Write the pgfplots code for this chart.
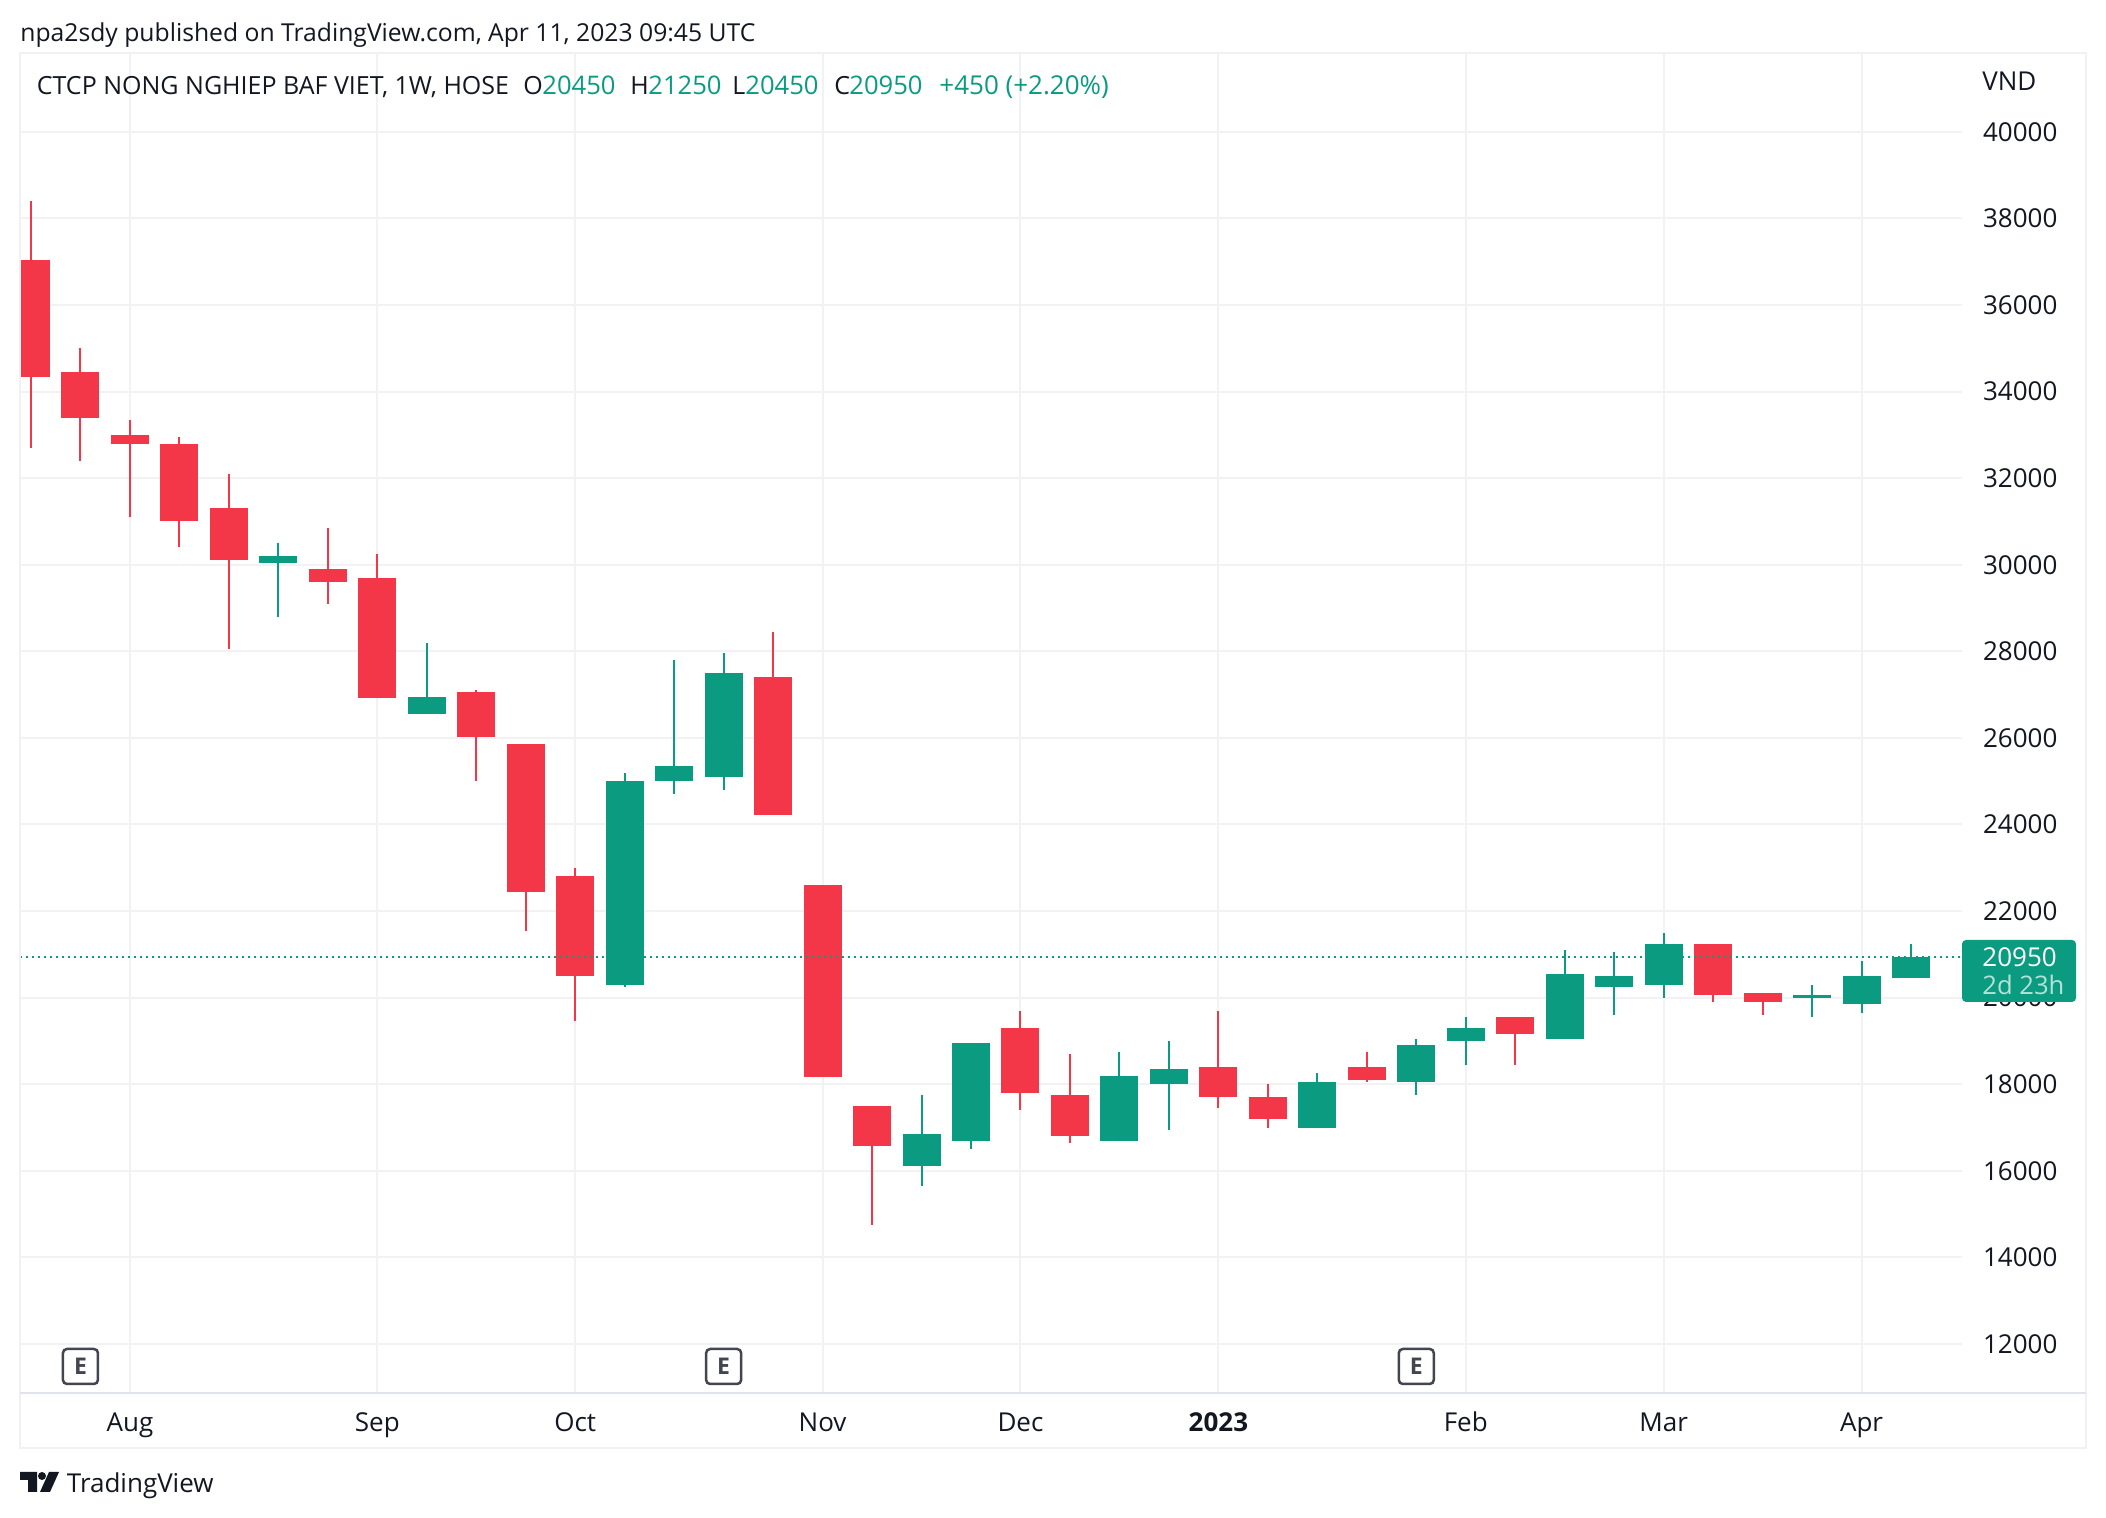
\documentclass[border=0pt]{standalone}
\usepackage{pgfplots}
\pgfplotsset{compat=1.18}
\usepackage{pgfplotstable}
\usepackage{fontspec}
\setmainfont{Open Sans}
\definecolor{tvred}{HTML}{F43748}
\definecolor{tvgreen}{HTML}{0A9B81}
\definecolor{tvtext}{HTML}{131722}
\definecolor{tvgrid}{HTML}{F2F2F4}
\definecolor{tvframe}{HTML}{F0F1F5}
\definecolor{tvaxis}{HTML}{E0E3EB}
\definecolor{tvmark}{HTML}{434651}
\pgfplotstableread{
i h bh bl l
0 38400 37030 34330 32700
1 35000 34450 33400 32400
2 33350 33000 32800 31100
3 32950 32800 31000 30400
4 32100 31300 30100 28050
6 30850 29900 29600 29100
7 30250 29700 26930 26930
9 27100 27050 26020 25000
10 25850 25850 22430 21550
11 23000 22800 20500 19450
15 28450 27400 24220 24220
16 22600 22600 18170 18170
17 17500 17500 16570 14750
20 19700 19300 17800 17400
21 18700 17750 16800 16650
24 19700 18400 17700 17450
25 18000 17700 17200 17000
27 18750 18400 18100 18050
30 19550 19550 19150 18450
34 21250 21250 20050 19900
35 20100 20100 19900 19600
}\redcandles
\pgfplotstableread{
i h bh bl l
5 30500 30200 30050 28800
8 28200 26950 26550 26550
12 25200 25000 20300 20250
13 27800 25350 25000 24700
14 27950 27500 25100 24800
18 17750 16850 16100 15650
19 18950 18950 16700 16500
22 18750 18200 16700 16680
23 19000 18350 18000 16950
26 18250 18050 17000 17000
28 19050 18900 18050 17750
29 19550 19300 19000 18450
31 21100 20550 19050 19050
32 21050 20500 20250 19600
33 21500 21250 20300 20000
36 20300 20050 20000 19550
37 20850 20500 19850 19650
38 21250 20950 20450 20450
}\greencandles
\newcommand{\tfont}{\fontsize{13pt}{15pt}\selectfont}
\newcommand{\hfont}{\fontsize{12.5pt}{15pt}\selectfont}
\newcommand{\dfont}{\fontsize{12.8pt}{15pt}\selectfont}
\begin{document}
\begin{tikzpicture}
\useasboundingbox (0,0) rectangle (1053pt,759pt);
\fill[white] (0,0) rectangle (1053pt,759pt);
\begin{axis}[
  at={(10pt,62.5pt)}, anchor=south west,
  scale only axis, width=971pt, height=670pt,
  xmin=-0.222, xmax=39.03, ymin=10868, ymax=41822,
  axis line style={draw=none},
  major tick length=0pt,
  xtick={2,7,11,16,20,24,29,33,37},
  xticklabels={Aug,Sep,Oct,Nov,Dec,\textbf{2023},Feb,Mar,Apr},
  ytick={12000,14000,16000,18000,20000,22000,24000,26000,28000,30000,32000,34000,36000,38000,40000},
  scaled y ticks=false,
  yticklabel pos=right,
  grid=major,
  major grid style={color=tvgrid,line width=1pt},
  /pgf/number format/.cd, 1000 sep={}, assume math mode=true,
  /pgfplots/.cd,
  tick label style={font=\tfont,text=tvtext},
  yticklabel style={anchor=west,xshift=7pt},
  xticklabel style={anchor=base,yshift=-19.5pt},
]
% wicks and bodies
\addplot[draw=none,mark=none,error bars/.cd,y dir=plus,y explicit,error mark=none,error bar style={color=tvred,line width=1pt}]
  table[x=i,y=l,y error expr=\thisrow{h}-\thisrow{l}] {\redcandles};
\addplot[draw=none,mark=none,error bars/.cd,y dir=plus,y explicit,error mark=none,error bar style={color=tvred,line width=19pt}]
  table[x=i,y=bl,y error expr=\thisrow{bh}-\thisrow{bl}] {\redcandles};
\addplot[draw=none,mark=none,error bars/.cd,y dir=plus,y explicit,error mark=none,error bar style={color=tvgreen,line width=1pt}]
  table[x=i,y=l,y error expr=\thisrow{h}-\thisrow{l}] {\greencandles};
\addplot[draw=none,mark=none,error bars/.cd,y dir=plus,y explicit,error mark=none,error bar style={color=tvgreen,line width=19pt}]
  table[x=i,y=bl,y error expr=\thisrow{bh}-\thisrow{bl}] {\greencandles};
% last price line
\addplot[tvgreen,line width=1pt,dash pattern=on 1pt off 2pt] coordinates {(-0.222,20950) (39.03,20950)};
% earnings marks
\addplot[draw=none,mark=none,nodes near coords={\bfseries E},
  nodes near coords align={center},
  every node near coord/.append style={anchor=center,draw=tvmark,line width=1.25pt,rounded corners=2pt,
    text=tvmark,font=\fontsize{11.5pt}{12pt}\selectfont,minimum width=17.5pt,minimum height=17.5pt,inner sep=0pt}]
  coordinates {(1,11480) (14,11480) (28,11480)};
\end{axis}
\begin{scope}[x=0.5pt,y=-0.5pt,yshift=759pt]
\draw[tvframe,line width=1pt] (20,53) rectangle (2086,1448);
\draw[tvaxis,line width=1pt] (20,1393) -- (2086,1393);
% price label
\fill[tvgreen,rounded corners=2pt] (1962,940) -- (2076,940) -- (2076,1002) -- (1962,1002) -- cycle;
\node[anchor=west,inner sep=0pt,text=white,font=\tfont] at (1982,957) {20950};
\node[anchor=west,inner sep=0pt,text=white,opacity=.7,font=\dfont] at (1982,985) {2d 23h};
\node[anchor=west,inner sep=0pt,text=tvtext,font=\tfont] at (1982,81) {VND};
% header
\node[anchor=base west,inner sep=0pt,text=tvtext,font=\fontsize{12.35pt}{15pt}\selectfont] at (20,41.5) {npa2sdy published on TradingView.com, Apr 11, 2023 09:45 UTC};
\node[anchor=base west,inner sep=0pt,text=tvtext,font=\hfont] at (36.5,95) {CTCP NONG NGHIEP BAF VIET, 1W, HOSE};
\node[anchor=base west,inner sep=0pt,text=tvtext,font=\hfont] at (523,95) {O};
\node[anchor=base west,inner sep=0pt,text=tvgreen,font=\dfont] at (542,95) {20450};
\node[anchor=base west,inner sep=0pt,text=tvtext,font=\hfont] at (630,95) {H};
\node[anchor=base west,inner sep=0pt,text=tvgreen,font=\dfont] at (648,95) {21250};
\node[anchor=base west,inner sep=0pt,text=tvtext,font=\hfont] at (732,95) {L};
\node[anchor=base west,inner sep=0pt,text=tvgreen,font=\dfont] at (745,95) {20450};
\node[anchor=base west,inner sep=0pt,text=tvtext,font=\hfont] at (834,95) {C};
\node[anchor=base west,inner sep=0pt,text=tvgreen,font=\dfont] at (849,95) {20950};
\node[anchor=base west,inner sep=0pt,text=tvgreen,font=\tfont] at (939,95) {+450 (+2.20\%)};
% logo
\fill[tvtext] (20,1472) -- (37,1472) -- (37,1492) -- (28,1492) -- (28,1480) -- (20,1480) -- cycle;
\fill[tvtext] (42,1476) circle (4);
\fill[tvtext] (49,1472) -- (59,1472) -- (50,1492) -- (40,1492) -- cycle;
\node[anchor=base west,inner sep=0pt,text=tvtext,font=\fontsize{13pt}{15pt}\selectfont] at (66.5,1493) {TradingView};
\end{scope}
\end{tikzpicture}
\end{document}
